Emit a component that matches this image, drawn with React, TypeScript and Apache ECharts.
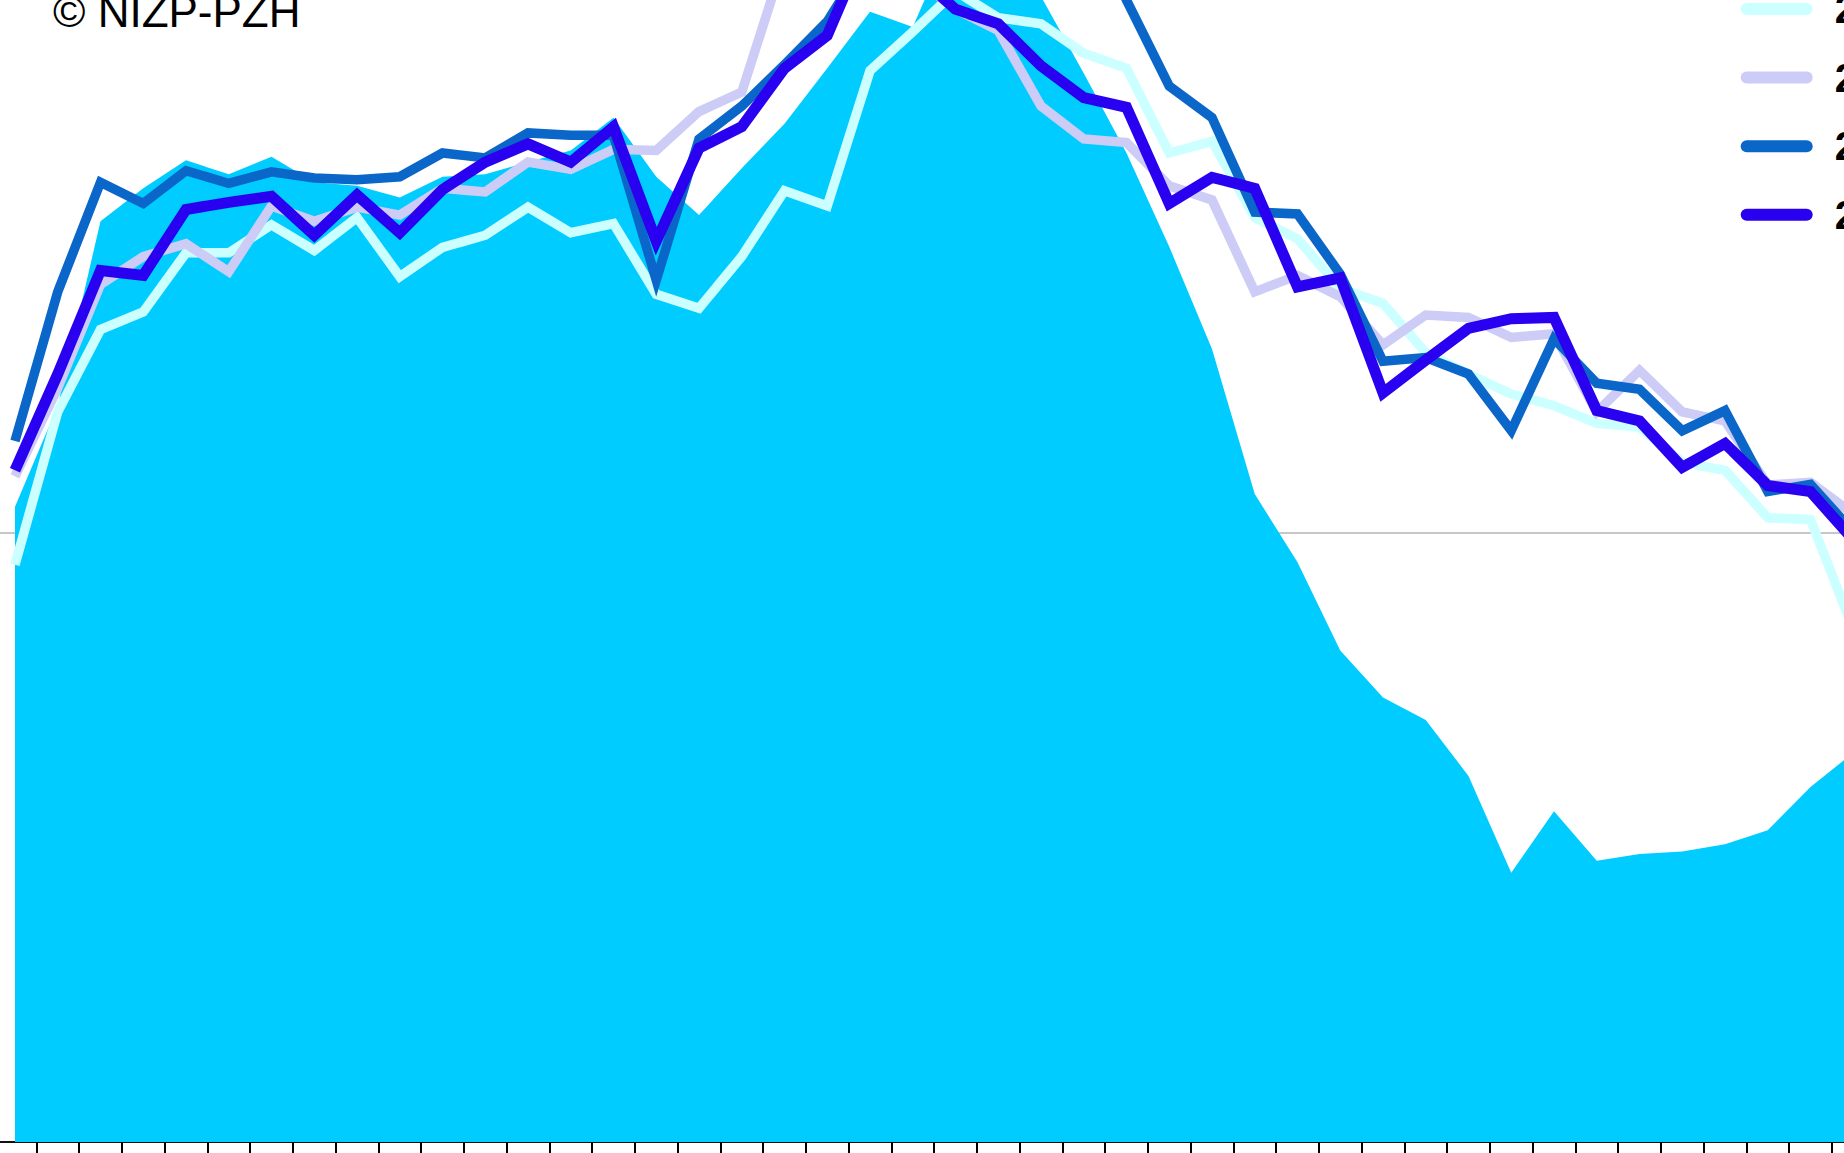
import React, { useEffect, useRef } from 'react';
import * as echarts from 'echarts';

// Weeks of the season (category axis)
const weeks = [
  '37', '38', '39', '40', '41', '42', '43', '44', '45', '46', '47', '48', '49', '50', '51', '52',
  '1', '2', '3', '4', '5', '6', '7', '8', '9', '10', '11', '12', '13', '14', '15', '16',
  '17', '18', '19', '20', '21', '22', '23', '24', '25', '26', '27', '28',
];

const seasonNames = ['2015/2016', '2016/2017', '2017/2018', '2018/2019'];
const areaName = '2019/2020';

const areaSeason = [
  104.3, 120.9, 151.2, 156.6, 161.2, 158.9, 161.8, 157.6, 157.0, 155.1, 158.5,
  158.9, 160.9, 162.8, 168.2, 158.5, 152.2, 159.9, 167.2, 176.3, 185.6, 183.1,
  199.1, 195.2, 188.1, 175.5, 162.4, 147.0, 130.2, 106.4, 95.2, 80.7, 73.0,
  69.3, 60.1, 44.2, 54.3, 46.2, 47.3, 47.7, 48.9, 51.2, 58.3, 63.9,
];

const seasonA = [
  94.8, 119.9, 133.4, 136.3, 146.0, 146.0, 150.6, 146.4, 151.8, 142.1, 146.9,
  148.9, 153.5, 149.3, 150.8, 139.2, 136.9, 145.4, 156.2, 153.7, 175.9, 182.3,
  189.0, 184.6, 183.6, 178.8, 176.3, 162.4, 164.3, 151.8, 148.3, 140.2, 137.7,
  129.6, 126.1, 122.8, 120.9, 118.0, 117.4, 111.6, 110.3, 102.5, 102.2, 84.2,
];

const seasonB = [
  109.3, 123.8, 140.8, 145.4, 147.5, 142.9, 153.7, 151.2, 153.5, 152.2, 156.6,
  156.0, 160.9, 159.7, 163.0, 162.8, 169.2, 172.4, 194.3, 203.0, 204.9, 191.4,
  186.0, 182.5, 170.1, 164.7, 164.1, 157.0, 154.7, 139.6, 142.3, 138.8, 130.9,
  135.8, 135.4, 132.1, 132.7, 119.9, 126.7, 119.9, 118.4, 107.9, 108.3, 103.1,
];

const seasonC = [
  115.1, 139.6, 157.6, 154.1, 159.5, 157.4, 159.3, 158.3, 158.0, 158.5, 162.4,
  161.6, 165.7, 165.3, 165.3, 141.5, 164.7, 170.1, 176.9, 184.0, 195.2, 208.7,
  218.4, 222.3, 216.5, 203.0, 187.5, 173.4, 168.2, 152.7, 152.4, 142.5, 128.2,
  128.8, 126.1, 116.8, 131.9, 124.6, 123.6, 116.8, 120.1, 106.8, 108.0, 100.2,
];

const seasonD = [
  110.3, 126.1, 143.1, 142.3, 153.1, 154.3, 155.3, 148.9, 155.5, 149.3, 156.4,
  160.9, 163.9, 160.9, 166.7, 147.9, 163.2, 166.7, 176.3, 181.7, 198.1, 192.3,
  186.0, 183.6, 176.7, 171.5, 169.9, 154.1, 158.4, 156.6, 140.4, 141.9, 123.0,
  128.4, 133.6, 135.2, 135.4, 120.1, 118.4, 110.8, 114.7, 107.8, 106.8, 98.9,
];

const lineColors = ['#ccffff', '#ccccf7', '#0a66c8', '#2a00f0'];
const lineWidths = [9.5, 9.5, 9.5, 11];
const lineData = [seasonA, seasonB, seasonC, seasonD];

// The visible page is a window onto a larger chart canvas
const OX = 50;
const OY = 750;
const CW = 1994;
const CH = 1953;

export default function App() {
  const ref = useRef<HTMLDivElement>(null);

  useEffect(() => {
    if (!ref.current) return;
    const chart = echarts.init(ref.current, null, { renderer: 'svg' });
    const catW = 42.75;
    const lineSeries = seasonNames.map((name, i) => ({
      name,
      type: 'line',
      data: lineData[i],
      color: lineColors[i],
      showSymbol: false,
      symbol: 'none',
      lineStyle: { color: lineColors[i], width: lineWidths[i], join: 'miter' },
      z: 3 + i,
    }));
    chart.setOption({
      animation: false,
      backgroundColor: '#ffffff',
      grid: {
        left: OX + 15 - catW / 2,
        top: OY - 685,
        width: catW * weeks.length,
        height: 1827,
        containLabel: false,
      },
      xAxis: {
        type: 'category',
        data: weeks,
        boundaryGap: true,
        axisLine: { show: true, lineStyle: { color: '#111', width: 2 } },
        axisTick: { show: true, length: 16, lineStyle: { color: '#000', width: 2 } },
        axisLabel: { show: false },
        splitLine: { show: false },
      },
      yAxis: {
        type: 'value',
        min: 0,
        max: 300,
        interval: 100,
        axisLine: { show: false },
        axisTick: { show: false },
        axisLabel: { show: false },
        splitLine: { show: true, lineStyle: { color: '#b4b4b4', width: 1.5 } },
      },
      legend: {
        orient: 'vertical',
        left: OX + 1740.7,
        top: OY - 15,
        itemWidth: 72,
        itemHeight: 12,
        itemGap: 20.6,
        padding: 0,
        selectedMode: false,
        icon: 'path://M6,0L66,0A6,6,0,0,1,66,12L6,12A6,6,0,0,1,6,0Z',
        itemStyle: { borderWidth: 0 },
        data: seasonNames,
        textStyle: {
          fontSize: 40,
          fontWeight: 'bold',
          color: '#000',
          fontFamily: 'Liberation Sans',
          lineHeight: 48,
          padding: [0, 0, 0, 17],
        },
      },
      graphic: [
        {
          type: 'text',
          x: OX + 53,
          y: OY + 11,
          style: {
            text: '© NIZP-PZH',
            fontSize: 44,
            fontFamily: 'Liberation Sans',
            fill: '#000',
            verticalAlign: 'middle',
            align: 'left',
          },
          z: 10,
        },
      ],
      series: [
        {
          name: areaName,
          type: 'line',
          data: areaSeason,
          color: '#00ccff',
          showSymbol: false,
          symbol: 'none',
          lineStyle: { width: 0 },
          areaStyle: { color: '#00ccff', opacity: 1 },
          z: 2,
        },
        ...lineSeries,
      ],
    });
    return () => chart.dispose();
  }, []);

  return (
    <div
      ref={ref}
      style={{
        position: 'fixed',
        left: `${-OX}px`,
        top: `${-OY}px`,
        width: `${CW}px`,
        height: `${CH}px`,
        background: '#fff',
      }}
    />
  );
}
